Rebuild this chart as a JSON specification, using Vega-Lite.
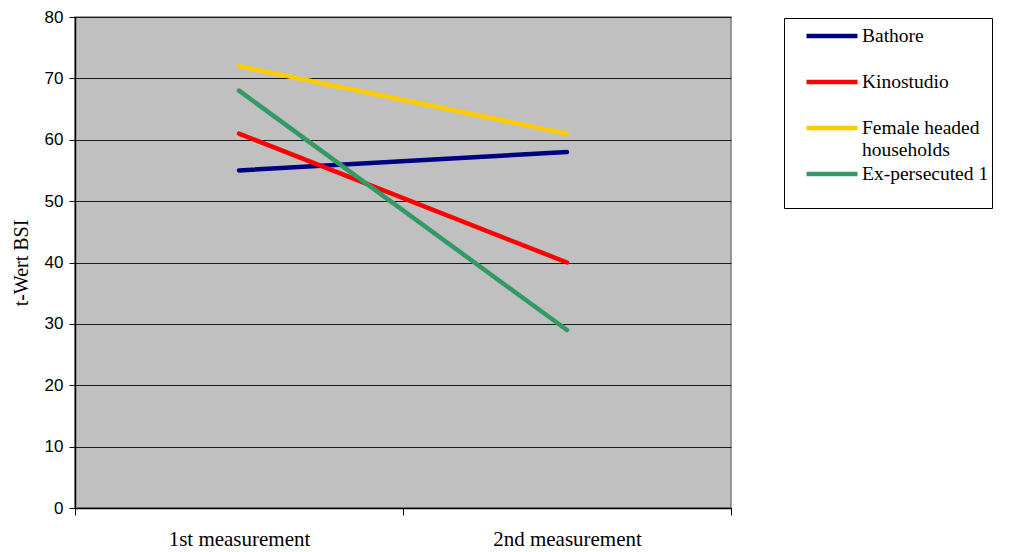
{
  "$schema": "https://vega.github.io/schema/vega-lite/v6.json",
  "autosize": "none",
  "width": 656,
  "height": 491,
  "padding": {"left": 75, "top": 17, "right": 280, "bottom": 44},
  "background": "white",
  "config": {
    "font": "Liberation Serif",
    "view": {"fill": "#c0c0c0", "stroke": "#808080", "strokeWidth": 1.5},
    "legend": {"labelFont": "Liberation Serif", "labelFontSize": 19.5, "labelColor": "#000"}
  },
  "data": {
    "values": [
      {"group": "Bathore", "time": "1st measurement", "score": 55},
      {"group": "Bathore", "time": "2nd measurement", "score": 58},
      {"group": "Kinostudio", "time": "1st measurement", "score": 61},
      {"group": "Kinostudio", "time": "2nd measurement", "score": 40},
      {"group": "Female headed households", "time": "1st measurement", "score": 72},
      {"group": "Female headed households", "time": "2nd measurement", "score": 61},
      {"group": "Ex-persecuted 1", "time": "1st measurement", "score": 68},
      {"group": "Ex-persecuted 1", "time": "2nd measurement", "score": 29}
    ]
  },
  "mark": {"type": "line", "strokeWidth": 4.5, "strokeCap": "round"},
  "encoding": {
    "x": {
      "field": "time",
      "type": "nominal",
      "scale": {"type": "band", "paddingInner": 0, "paddingOuter": 0},
      "axis": {
        "title": null,
        "labelAngle": 0,
        "labelFont": "Liberation Serif",
        "labelFontSize": 21,
        "labelColor": "#000",
        "labelPadding": 13,
        "tickBand": "extent",
        "tickSize": 7,
        "tickColor": "#000",
        "domainColor": "#000",
        "domainWidth": 1.5,
        "grid": false
      }
    },
    "y": {
      "field": "score",
      "type": "quantitative",
      "scale": {"domain": [0, 80], "nice": false, "zero": true},
      "axis": {
        "title": "t-Wert BSI",
        "titleFont": "Liberation Serif",
        "titleFontSize": 20,
        "titleFontWeight": "normal",
        "titleColor": "#000",
        "titleX": -48,
        "titleY": 245.5,
        "titleBaseline": "alphabetic",
        "values": [0, 10, 20, 30, 40, 50, 60, 70, 80],
        "labelFont": "Liberation Sans",
        "labelFontSize": 17,
        "labelColor": "#000",
        "labelPadding": 6,
        "tickSize": 6,
        "tickColor": "#000",
        "domainColor": "#000",
        "domainWidth": 1.5,
        "grid": true,
        "gridColor": "#1a1a1a",
        "gridWidth": 1.2
      }
    },
    "color": {
      "field": "group",
      "type": "nominal",
      "scale": {
        "domain": ["Bathore", "Kinostudio", "Female headed households", "Ex-persecuted 1"],
        "range": ["#000080", "#ff0000", "#ffcc00", "#339966"]
      },
      "legend": {
        "title": null,
        "orient": "none",
        "legendX": 709,
        "legendY": 1,
        "padding": 3,
        "strokeColor": "#000",
        "fillColor": "#fff",
        "symbolType": "M-2,0H2",
        "symbolSize": 650,
        "symbolStrokeWidth": 4.5,
        "symbolOffset": 30,
        "labelOffset": 15,
        "labelFont": "Liberation Serif",
        "labelFontSize": 19.5,
        "labelColor": "#000",
        "labelLimit": 300,
        "rowPadding": 0,
        "labelExpr": "datum.label == 'Female headed households' ? ['Female headed\u2003\u2003\u2003', 'households'] : [datum.label, '']"
      }
    }
  }
}
